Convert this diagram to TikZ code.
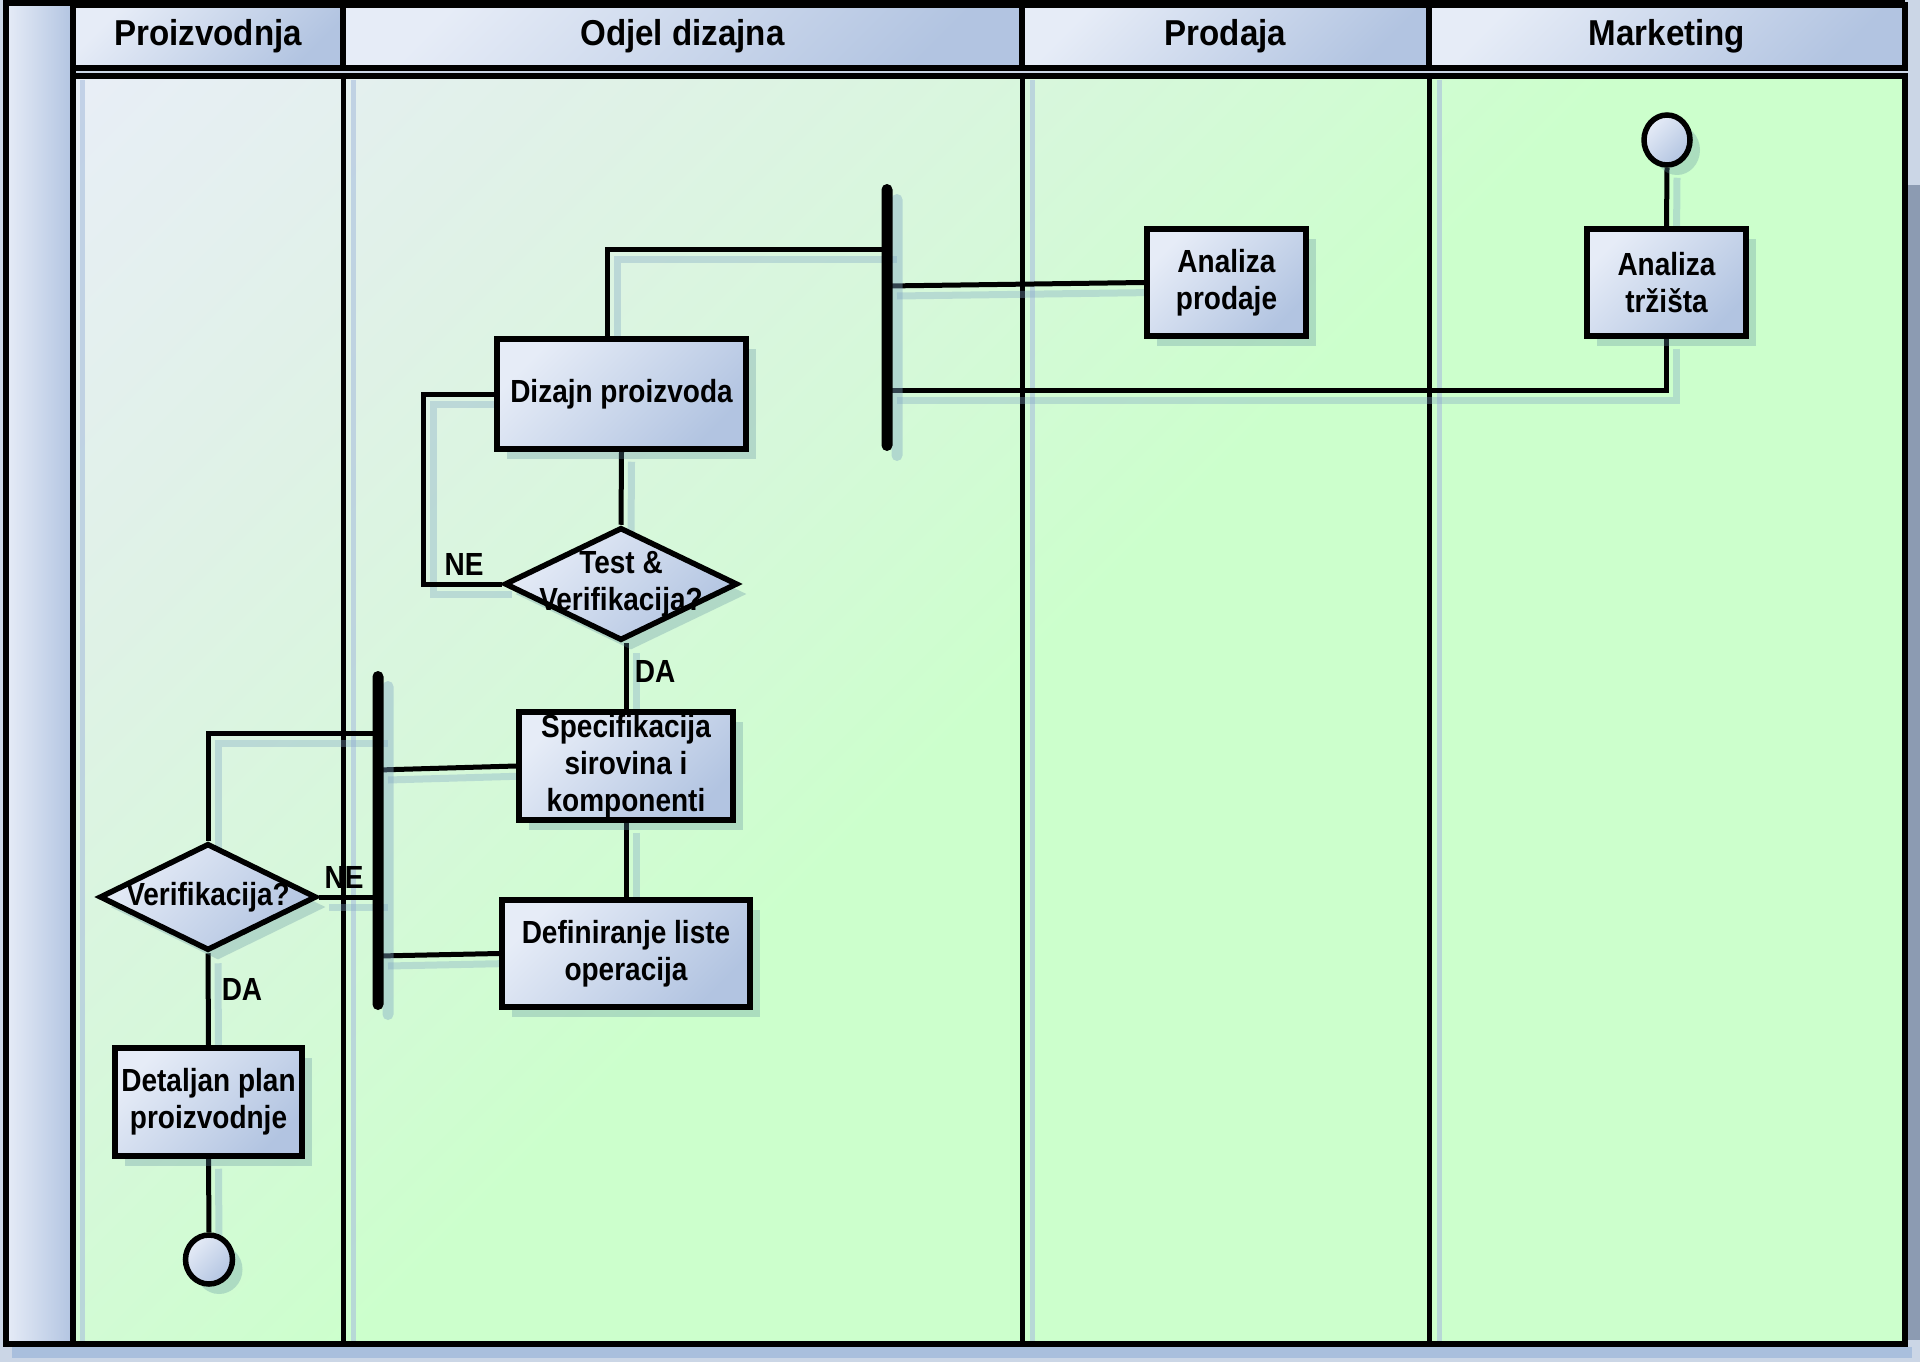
\documentclass[tikz,border=0pt]{standalone}
\usepackage{fontspec}
\setmainfont{Liberation Sans}
\newfontfamily\boxfont{Liberation Sans}[FakeStretch=0.875]
\newfontfamily\headfont{Liberation Sans}[FakeStretch=0.92]
\usetikzlibrary{shapes.geometric,shadows,calc}

% colours
\definecolor{bxA}{HTML}{E6ECF7}
\definecolor{bxB}{HTML}{B2C4E1}
\definecolor{shadowc}{HTML}{5F8FA0}
\definecolor{wireshade}{HTML}{7FA6C4}
\definecolor{laneA}{HTML}{E8EEF6}
\definecolor{laneB}{HTML}{DFF2E6}
\definecolor{laneC}{HTML}{D6F8DA}
\definecolor{laneD}{HTML}{CCFFCC}
\definecolor{margin}{HTML}{CBD6E6}
\definecolor{rightgrey}{HTML}{8C9BB2}
\definecolor{laneshadowc}{HTML}{A9BFDD}

\pgfdeclarehorizontalshading{boxshade}{100bp}{color(0bp)=(bxA); color(25bp)=(bxA); color(75bp)=(bxB); color(100bp)=(bxB)}
\pgfdeclarehorizontalshading{laneshade}{100bp}{color(0bp)=(laneA); color(15bp)=(laneA); color(28bp)=(laneB); color(39bp)=(laneC); color(50bp)=(laneD); color(100bp)=(laneD)}

\newcommand\boxtext{\boxfont\bfseries\fontsize{32}{37}\selectfont}
\newcommand\headtext{\headfont\bfseries\fontsize{36}{40}\selectfont}
\newcommand\wire[1]{\draw[wireshadow] #1; \draw[wire] #1;}

\pgfdeclarelayer{lanes}
\pgfdeclarelayer{wires}
\pgfsetlayers{lanes,wires,main}

\tikzset{
  wire/.style={draw=black, line width=5pt},
  wireshadow/.style={draw=wireshade, line width=7pt, opacity=0.35, transform canvas={shift={(10pt,-10pt)}}},
  boxshadow/.style={drop shadow={shadow xshift=10pt, shadow yshift=-10pt, opacity=0.3, fill=shadowc}},
  flowbox/.style={rectangle, draw=black, line width=5.5pt, shade, shading=boxshade, shading angle=-45,
    inner sep=0pt, align=center, font=\boxtext, boxshadow},
  decision/.style={diamond, draw=black, line width=5.5pt, shade, shading=boxshade, shading angle=-45,
    inner sep=0pt, boxshadow},
  dtext/.style={font=\boxtext, align=center, inner sep=0pt},
  terminal/.style={ellipse, draw=black, line width=5.5pt, shade, shading=boxshade, shading angle=-45,
    inner sep=0pt, boxshadow},
  syncbar/.style={rectangle, fill=black, rounded corners=5.5pt, inner sep=0pt, minimum width=11pt,
    drop shadow={shadow xshift=10pt, shadow yshift=-10pt, opacity=0.4, fill=wireshade}},
  lanehead/.style={rectangle, draw=black, line width=5.5pt, shade, shading=boxshade, shading angle=-45,
    inner sep=0pt, font=\headtext, minimum height=63pt},
  flowlabel/.style={font=\boxtext, inner sep=0pt},
  frame/.style={draw=black, line width=5.5pt},
  divider/.style={draw=black, line width=5pt},
  laneshadow/.style={draw=laneshadowc, line width=5pt, opacity=0.6},
}

\begin{document}
\begin{tikzpicture}[x=1pt, y=-1pt]
\useasboundingbox (0,0) rectangle (1920,1362);

\begin{pgfonlayer}{lanes}
  % surroundings
  \fill[margin] (0,0) rectangle (1920,1362);
  \fill[rightgrey] (1908,185) rectangle (1920,1340);
  \fill[laneshadowc] (12,1347) rectangle (1912,1358);
  % pool label strip
  \shade[left color=bxA, right color=bxB] (6,5) rectangle (73,1344);
  % lane bodies
  \shade[shading=laneshade, shading angle=-45] (73,76) rectangle (1905,1344);
  \draw[laneshadow] (82,80) -- (82,1356);
  \draw[laneshadow] (353,80) -- (353,1356);
  \draw[laneshadow] (1032,80) -- (1032,1356);
  \draw[laneshadow] (1439,80) -- (1439,1356);
  \draw[divider] (343,76) -- (343,1344);
  \draw[divider] (1022,76) -- (1022,1344);
  \draw[divider] (1429,76) -- (1429,1344);
  \draw[frame] (73,76) rectangle (1905,1344);
  \draw[frame] (6,3) rectangle (73,1344);
  \draw[frame] (6,3) -- (1905,3);
  % lane headers
  \node[lanehead, minimum width=270pt] (hP) at (208,36.5) {Proizvodnja};
  \node[lanehead, minimum width=679pt] (hO) at (682.5,36.5) {Odjel dizajna};
  \node[lanehead, minimum width=407pt] (hS) at (1225.5,36.5) {Prodaja};
  \node[lanehead, minimum width=476pt] (hM) at (1667,36.5) {Marketing};
\end{pgfonlayer}

% Marketing
\node[terminal, minimum width=46pt, minimum height=50pt] (start) at (1667,140) {};
\node[flowbox, minimum width=159pt, minimum height=107pt] (at) at (1666.5,282.5) {Analiza\\tržišta};
% Prodaja
\node[flowbox, minimum width=159pt, minimum height=107pt] (ap) at (1226.5,282.5) {Analiza\\prodaje};
% Odjel dizajna
\node[syncbar, minimum height=267pt] (bar1) at (887,317.5) {};
\node[flowbox, minimum width=249pt, minimum height=110pt] (dz) at (621.5,394) {Dizajn proizvoda};
\node[decision, minimum width=233pt, minimum height=113pt,
      label={[dtext]center:Test \&\\Verifikacija?}] (td) at (621,584) {};
\node[flowbox, minimum width=214pt, minimum height=108pt] (spec) at (626,766)
      {Specifikacija\\sirovina i\\komponenti};
\node[flowbox, minimum width=248pt, minimum height=107pt] (def) at (626,953.5)
      {Definiranje liste\\operacija};
\node[syncbar, minimum height=339pt] (bar2) at (378,840.5) {};
% Proizvodnja
\node[decision, minimum width=217pt, minimum height=107pt,
      label={[dtext]center:Verifikacija?}] (vd) at (208,897) {};
\node[flowbox, minimum width=187pt, minimum height=108pt] (dp) at (208.5,1102)
      {Detaljan plan\\proizvodnje};
\node[terminal, minimum width=47pt, minimum height=49pt] (end) at (209,1259.5) {};

% branch labels
\node[flowlabel] (ne1) at (464,564) {NE};
\node[flowlabel] (da1) at (655,671) {DA};
\node[flowlabel] (ne2) at (344,877) {NE};
\node[flowlabel] (da2) at (242,989) {DA};

\begin{pgfonlayer}{wires}
  \wire{(start.south) -- (at.north)}
  \wire{(at.south) |- ([yshift=-72.5pt]bar1.center)}
  \wire{([yshift=31.5pt]bar1.center) -- (ap.west)}
  \wire{([yshift=68.5pt]bar1.center) -| ([xshift=-14.5pt]dz.north)}
  \wire{(dz.south) -- (td.north)}
  \wire{(td.west) -- ++(-78,0) |- (dz.west)}
  \wire{(spec.north |- td.south) -- (spec.north)}
  \wire{(spec.south) -- (def.north)}
  \wire{([yshift=70.5pt]bar2.center) -- (spec.west)}
  \wire{([yshift=-115.5pt]bar2.center) -- (def.west)}
  \wire{([yshift=107.5pt]bar2.center) -| (vd.north)}
  \wire{(vd.east) -- (vd.east -| bar2.center)}
  \wire{(vd.south) -- (dp.north)}
  \wire{(dp.south) -- (end.north)}
\end{pgfonlayer}
\end{tikzpicture}
\end{document}
